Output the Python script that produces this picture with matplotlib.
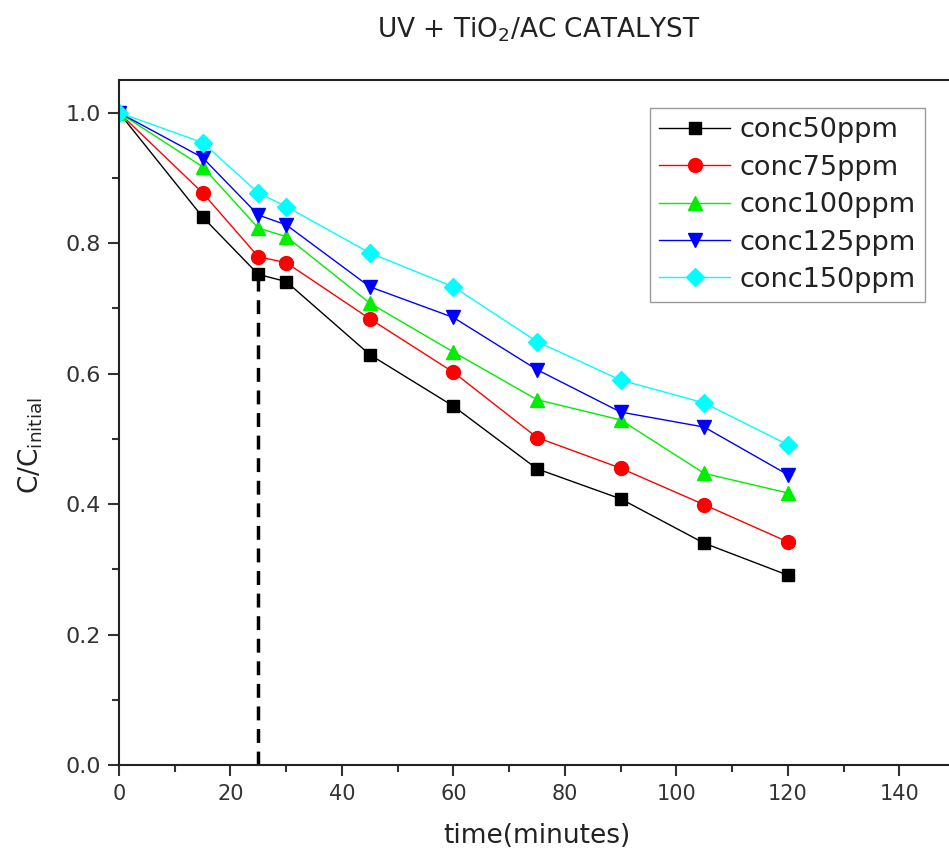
import numpy as np
import matplotlib
matplotlib.use("Agg")
import matplotlib.pyplot as plt
from matplotlib.ticker import MultipleLocator, FormatStrFormatter

plt.rcParams['font.family'] = ['DejaVu Sans']

time = [0, 15, 25, 30, 45, 60, 75, 90, 105, 120]
conc50 = [1.0, 0.840, 0.752, 0.741, 0.629, 0.550, 0.454, 0.408, 0.340, 0.291]
conc75 = [1.0, 0.877, 0.779, 0.770, 0.684, 0.602, 0.502, 0.455, 0.399, 0.342]
conc100 = [1.0, 0.917, 0.823, 0.810, 0.708, 0.633, 0.560, 0.529, 0.447, 0.417]
conc125 = [1.0, 0.931, 0.843, 0.828, 0.733, 0.686, 0.606, 0.541, 0.518, 0.445]
conc150 = [1.0, 0.954, 0.877, 0.856, 0.785, 0.733, 0.649, 0.590, 0.555, 0.491]
labels = ["conc50ppm", "conc75ppm", "conc100ppm", "conc125ppm", "conc150ppm"]

# dashed guide at t = 25 min up to the conc50 point
marker_t = 25
marker_c = 0.752

fig = plt.figure(figsize=(9.49, 8.6), dpi=100)
ax = fig.add_axes([119/949, 1-765/860, 836/949, 685/860])

series = [conc50, conc75, conc100, conc125, conc150]
colors = ["black", "red", "#00ee00", "blue", "cyan"]
markers = ["s", "o", "^", "v", "D"]
sizes = [8, 10, 10, 10, 9]
for y, c, m, s, lab in zip(series, colors, markers, sizes, labels):
    ax.plot(time, y, color=c, marker=m, markersize=s, lw=1.0, label=lab,
            markeredgecolor=c)

ax.plot([marker_t, marker_t], [0, marker_c], color="black", lw=2.5,
        linestyle=(0, (4, 2.5)), zorder=1)

ax.set_xlim(0, 150)
ax.set_ylim(0, 1.05)
ax.xaxis.set_major_locator(MultipleLocator(20))
ax.xaxis.set_minor_locator(MultipleLocator(10))
ax.yaxis.set_major_locator(MultipleLocator(0.2))
ax.yaxis.set_minor_locator(MultipleLocator(0.1))
ax.yaxis.set_major_formatter(FormatStrFormatter('%.1f'))
ax.tick_params(which='both', direction='out', width=1.5, colors='#333333')
ax.tick_params(which='major', length=8)
ax.tick_params(which='minor', length=5)
ax.tick_params(axis='x', labelsize=15, pad=6)
ax.tick_params(axis='y', labelsize=16, pad=5)
for sp in ax.spines.values():
    sp.set_linewidth(1.5)
    sp.set_color('#222222')
ax.spines['right'].set_visible(False)

ax.set_xlabel("time(minutes)", fontsize=19, color='#222222')
ax.xaxis.set_label_coords(0.5, -0.085)
ax.set_ylabel(r"C/C$_{\mathregular{initial}}$", fontsize=19, color='#222222')
ax.yaxis.set_label_coords(-0.088, 0.466)
fig.text(539/949, 1-37/860, r"UV + TiO$_{\mathregular{2}}$/AC CATALYST", fontsize=19,
         ha='center', va='baseline', color='#222222')

leg = ax.legend(loc='upper right', bbox_to_anchor=(925/949, 1-108/860),
                bbox_transform=fig.transFigure, borderaxespad=0,
                fancybox=False, edgecolor='gray', fontsize=19.5,
                handlelength=2.6, handletextpad=0.35, labelspacing=0.42,
                borderpad=0.35)
leg.get_frame().set_linewidth(1.0)
for t in leg.get_texts():
    t.set_color('#222222')

fig.savefig("out.png", dpi=100)
